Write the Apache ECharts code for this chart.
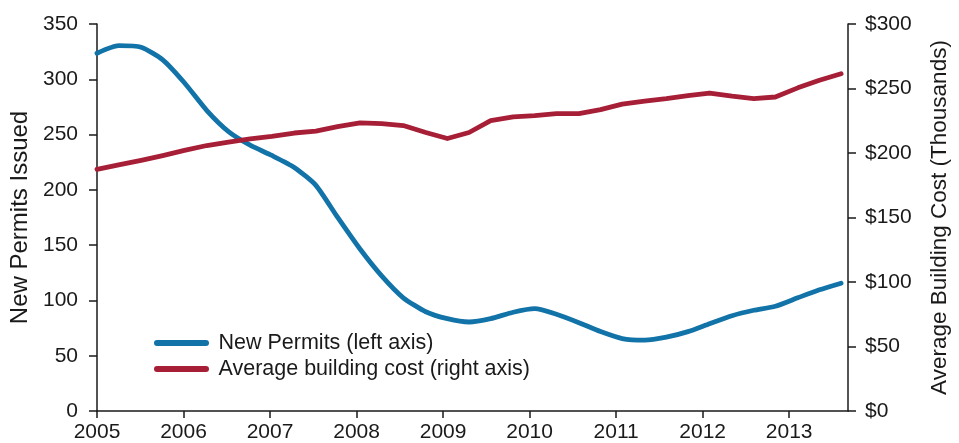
<!DOCTYPE html>
<html>
<head>
<meta charset="utf-8">
<title>New permits and building cost</title>
<script src="https://cdn.jsdelivr.net/npm/echarts@6/dist/echarts.min.js"></script>
<style>
  html, body { margin: 0; padding: 0; background: #fff; }
  #chart { width: 959px; height: 443px; }
</style>
</head>
<body>
<div id="chart"></div>
<script>
// quarterly observations, as decimal years
var periods = [2005.00, 2005.25, 2005.51, 2005.76, 2006.01, 2006.27, 2006.52, 2006.77,
  2007.02, 2007.28, 2007.53, 2007.78, 2008.04, 2008.29, 2008.54, 2008.80,
  2009.05, 2009.30, 2009.55, 2009.81, 2010.06, 2010.31, 2010.57, 2010.82,
  2011.07, 2011.33, 2011.58, 2011.83, 2012.08, 2012.34, 2012.59, 2012.84,
  2013.10, 2013.35, 2013.60]
// new permits issued (left axis)
var permits = [323.6, 330.4, 329.0, 317.6, 296.9, 271.7, 252.7, 240.4,
  231.1, 220.3, 204.1, 175.3, 146.5, 122.2, 102.4, 89.8,
  83.5, 80.5, 83.5, 89.3, 92.5, 87.5, 79.9, 71.8,
  65.5, 64.1, 66.8, 71.8, 79.0, 86.2, 91.1, 94.7,
  102.4, 109.6, 115.6]
// average building cost, thousands of dollars (right axis)
var cost = [187.3, 190.8, 194.3, 198.0, 202.0, 205.8, 208.5, 210.9,
  212.8, 215.5, 217.0, 220.5, 223.4, 222.8, 221.3, 215.9,
  211.2, 215.9, 225.1, 228.0, 229.0, 230.5, 230.5, 233.6,
  237.9, 240.2, 242.1, 244.4, 246.5, 244.0, 242.1, 243.4,
  250.5, 256.4, 261.4]
var years = [2005, 2006, 2007, 2008, 2009, 2010, 2011, 2012, 2013]

var myChart = echarts.init(document.getElementById('chart'))

var txt = '#1a1a1a'
var font = 'Liberation Sans'
var legendIcon = 'path://M3,0 H52 A3,3 0 0 1 52,6 H3 A3,3 0 0 1 3,0 Z'

var option = {
  animation: false,
  color: ['#1273a8', '#a71f36'],
  textStyle: { fontFamily: font, color: txt },
  grid: { left: 97, right: 110, top: 24, bottom: 30 },
  legend: {
    orient: 'vertical',
    left: 149,
    top: 327,
    itemWidth: 56,
    itemHeight: 6,
    itemGap: 4,
    textStyle: { fontSize: 21.5, color: txt, fontFamily: font, padding: [0, 0, 0, 4] },
    data: [
      { name: 'New Permits (left axis)', icon: legendIcon },
      { name: 'Average building cost (right axis)', icon: legendIcon }
    ]
  },
  xAxis: {
    type: 'value',
    min: 2005,
    max: 2013.68,
    interval: 1,
    splitLine: { show: false },
    axisLine: { lineStyle: { color: txt, width: 1.5 } },
    axisTick: { show: true, length: 7, customValues: years, lineStyle: { color: txt, width: 1.5 } },
    axisLabel: {
      customValues: years,
      fontSize: 21, color: txt, fontFamily: font, margin: 11,
      formatter: function (v) { return String(Math.round(v)) }
    }
  },
  yAxis: [{
    type: 'value',
    min: 0, max: 350, interval: 50,
    name: 'New Permits Issued',
    nameLocation: 'middle',
    nameGap: 62,
    nameTextStyle: { fontSize: 24, color: txt, fontFamily: font },
    splitLine: { show: false },
    axisLine: { show: true, lineStyle: { color: txt, width: 1.5 } },
    axisTick: { show: true, length: 8, lineStyle: { color: txt, width: 1.5 } },
    axisLabel: { fontSize: 21, color: txt, fontFamily: font, margin: 19 }
  }, {
    type: 'value',
    position: 'right',
    min: 0, max: 300, interval: 50,
    name: 'Average Building Cost (Thousands)',
    nameLocation: 'middle',
    nameGap: 80,
    nameRotate: 90,
    nameTextStyle: { fontSize: 22.5, color: txt, fontFamily: font },
    splitLine: { show: false },
    axisLine: { show: true, lineStyle: { color: txt, width: 1.5 } },
    axisTick: { show: true, length: 8, lineStyle: { color: txt, width: 1.5 } },
    axisLabel: {
      fontSize: 21, color: txt, fontFamily: font, margin: 17,
      formatter: function (v) { return '$' + v }
    }
  }],
  series: [{
    name: 'New Permits (left axis)',
    type: 'line',
    yAxisIndex: 0,
    showSymbol: false,
    smooth: 0.2,
    lineStyle: { width: 4.8, cap: 'round', join: 'round' },
    data: periods.map(function (p, i) { return [p, permits[i]] })
  }, {
    name: 'Average building cost (right axis)',
    type: 'line',
    yAxisIndex: 1,
    showSymbol: false,
    lineStyle: { width: 4.8, cap: 'round', join: 'round' },
    data: periods.map(function (p, i) { return [p, cost[i]] })
  }]
}

myChart.setOption(option)
</script>
</body>
</html>
